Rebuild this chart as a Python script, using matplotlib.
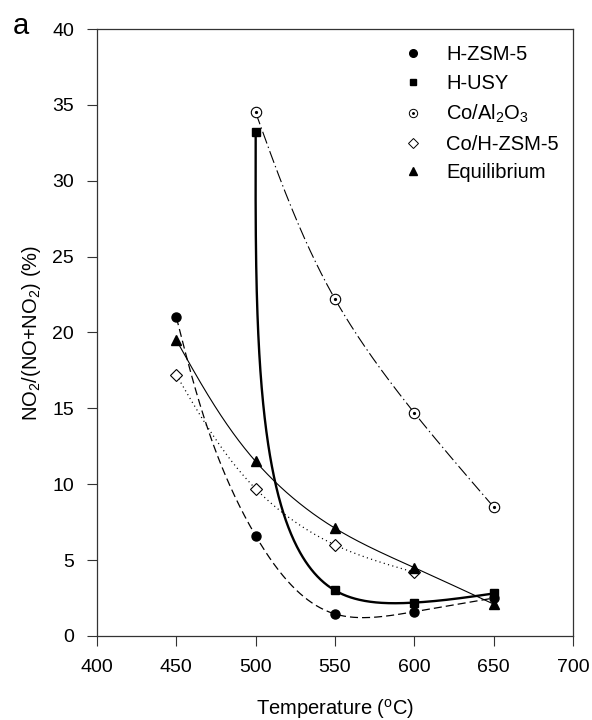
import numpy as np
import matplotlib
matplotlib.use("Agg")
import matplotlib.pyplot as plt
from matplotlib.lines import Line2D
from matplotlib.legend_handler import HandlerTuple

plt.rcParams['font.family'] = ['Liberation Sans', 'DejaVu Sans']
plt.rcParams['mathtext.fontset'] = 'custom'
plt.rcParams['mathtext.rm'] = 'Liberation Sans'
plt.rcParams['mathtext.it'] = 'Liberation Sans:italic'
plt.rcParams['lines.scale_dashes'] = False

# NO2 fraction vs temperature for each catalyst
temp_zsm5 = [450, 500, 550, 600, 650]
no2_zsm5 = [21.0, 6.6, 1.45, 1.6, 2.5]

temp_usy = [500, 550, 600, 650]
no2_usy = [33.2, 3.0, 2.2, 2.8]

temp_coal = [500, 550, 600, 650]
no2_coal = [34.5, 22.2, 14.7, 8.5]

temp_cozsm5 = [450, 500, 550, 600]
no2_cozsm5 = [17.2, 9.7, 6.0, 4.2]

temp_eq = [450, 500, 550, 600, 650]
no2_eq = [19.5, 11.5, 7.1, 4.5, 2.1]


def natural(t, v, tt):
    v = np.asarray(v, float)
    n = len(t)
    h = np.diff(t)
    A = np.zeros((n, n))
    r = np.zeros(n)
    A[0, 0] = A[-1, -1] = 1
    for i in range(1, n - 1):
        A[i, i - 1] = h[i - 1]
        A[i, i] = 2 * (h[i - 1] + h[i])
        A[i, i + 1] = h[i]
        r[i] = 6 * ((v[i + 1] - v[i]) / h[i] - (v[i] - v[i - 1]) / h[i - 1])
    M = np.linalg.solve(A, r)
    idx = np.clip(np.searchsorted(t, tt) - 1, 0, n - 2)
    t0 = t[idx]
    t1 = t[idx + 1]
    hh = t1 - t0
    a = (t1 - tt) / hh
    b = (tt - t0) / hh
    return a * v[idx] + b * v[idx + 1] + ((a**3 - a) * M[idx] + (b**3 - b) * M[idx + 1]) * hh**2 / 6


def smooth(xs, ys, alpha=1.0, n=400):
    # parametric spline, knot spacing from chord length (screen units) ** alpha
    px = np.asarray(xs, float) / 300 * 476
    py = np.asarray(ys, float) / 40 * 607
    d = np.hypot(np.diff(px), np.diff(py)) ** alpha
    t = np.concatenate([[0], np.cumsum(d)])
    tt = np.linspace(0, t[-1], n)
    return natural(t, xs, tt), natural(t, ys, tt)


fig = plt.figure(figsize=(5.92, 7.2), dpi=100)
ax = fig.add_axes([0.1639, 0.1167, 0.804, 0.843])

ms = 6.5
# H-ZSM-5
x, y = smooth(temp_zsm5, no2_zsm5)
ax.plot(x, y, color='black', lw=0.9, dashes=(5.8, 2.9))
ax.plot(temp_zsm5, no2_zsm5, 'o', color='black', ms=ms, zorder=5)
# H-USY
x, y = smooth(temp_usy, no2_usy, alpha=0.72)
ax.plot(x, y, color='black', lw=1.7)
ax.plot(temp_usy, no2_usy, 's', color='black', ms=6, zorder=5)
# Co/Al2O3
x, y = smooth(temp_coal, no2_coal)
ax.plot(x, y, color='black', lw=0.8, dashes=(9.0, 2.4, 1.0, 2.4))
ax.plot(temp_coal, no2_coal, 'o', mfc='white', mec='black', mew=0.8, ms=7.5, zorder=5)
ax.plot(temp_coal, no2_coal, 'o', color='black', ms=1.3, zorder=6)
# Co/H-ZSM-5
x, y = smooth(temp_cozsm5, no2_cozsm5)
ax.plot(x, y, color='black', lw=0.9, dashes=(0.8, 2.4))
ax.plot(temp_cozsm5, no2_cozsm5, 'D', mfc='white', mec='black', mew=0.8, ms=6, zorder=5)
# Equilibrium
x, y = smooth(temp_eq, no2_eq)
ax.plot(x, y, color='black', lw=0.8)
ax.plot(temp_eq, no2_eq, '^', color='black', ms=7, zorder=5)

ax.set_xlim(400, 700)
ax.set_ylim(0, 40)
ax.set_xticks(range(400, 701, 50))
ax.set_yticks(range(0, 41, 5))
ax.tick_params(direction='out', length=7.5, width=0.8, labelsize=14, color='#333333', pad=9)
for s in ax.spines.values():
    s.set_linewidth(0.9)
    s.set_color('#333333')

ax.set_xlabel('Temperature ($^{\\mathrm{o}}$C)', fontsize=14.5, labelpad=15)
ax.set_ylabel('NO$_2$/(NO+NO$_2$) (%)', fontsize=14.5, labelpad=7)

fig.text(0.022, 0.983, 'a', fontsize=21, va='top', ha='left')

handles = [
    Line2D([], [], ls='none', marker='o', color='black', ms=5.5),
    Line2D([], [], ls='none', marker='s', color='black', ms=5),
    (Line2D([], [], ls='none', marker='o', mfc='white', mec='black', mew=0.7, ms=6),
     Line2D([], [], ls='none', marker='o', color='black', ms=1.1)),
    Line2D([], [], ls='none', marker='D', mfc='white', mec='black', mew=0.7, ms=5),
    Line2D([], [], ls='none', marker='^', color='black', ms=6),
]
labels = ['H-ZSM-5', 'H-USY', 'Co/Al$_2$O$_3$', 'Co/H-ZSM-5', 'Equilibrium']
fig.legend(handles, labels, loc='upper left', bbox_to_anchor=(0.6836, 0.937),
           frameon=False, fontsize=14.5, handlelength=0.8, handletextpad=1.25,
           labelspacing=0.48, borderpad=0, borderaxespad=0,
           handler_map={tuple: HandlerTuple(ndivide=1, pad=0)})

fig.savefig('out.png', dpi=100)
